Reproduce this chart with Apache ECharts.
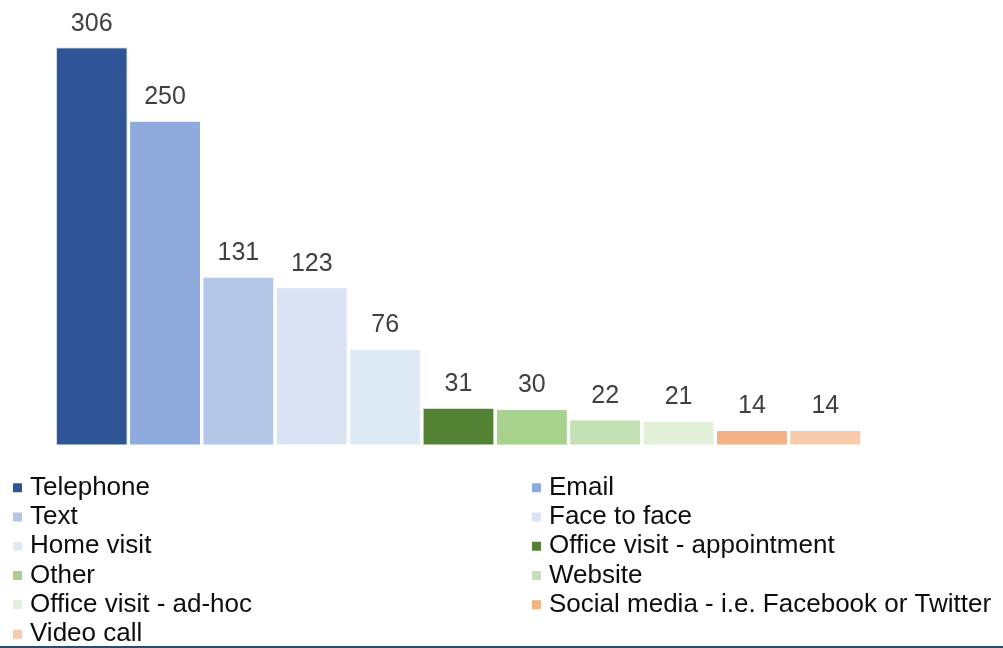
<!DOCTYPE html>
<html>
<head>
<meta charset="utf-8">
<title>Contact methods</title>
<script src="https://cdn.jsdelivr.net/npm/echarts@6/dist/echarts.min.js"></script>
<style>
  html, body { margin: 0; padding: 0; background: #fff; }
  #chart { width: 1003px; height: 648px; }
</style>
</head>
<body>
<div id="chart"></div>
<script>
// Contact methods and how many times each was used
const categories = [
  'Telephone', 'Email', 'Text', 'Face to face', 'Home visit',
  'Office visit - appointment', 'Other', 'Website', 'Office visit - ad-hoc',
  'Social media - i.e. Facebook or Twitter', 'Video call'
];
const counts = [306, 250, 131, 123, 76, 31, 30, 22, 21, 14, 14];

// Legend columns (read row by row: left, right, left, right...)
const legendLeft = ['Telephone', 'Text', 'Home visit', 'Other', 'Office visit - ad-hoc', 'Video call'];
const legendRight = ['Email', 'Face to face', 'Office visit - appointment', 'Website', 'Social media - i.e. Facebook or Twitter'];

const palette = [
  '#2F5597', '#8FAADC', '#B4C7E7', '#DAE3F3', '#DEEBF7',
  '#548235', '#A9D18E', '#C5E0B4', '#E2F0D9', '#F4B183', '#F8CBAD'
];

const FONT = 'Arial, "Liberation Sans", sans-serif';

// One series per method so every bar gets its own legend entry;
// each series only holds its own category's value.
const series = categories.map((name, i) => ({
  name: name,
  type: 'bar',
  stack: 'methods',
  barCategoryGap: '2%',
  itemStyle: { color: palette[i], borderColor: '#ffffff', borderWidth: 1 },
  label: {
    show: true,
    position: 'top',
    distance: 11,
    fontFamily: FONT,
    fontSize: 25,
    color: '#404040'
  },
  emphasis: { disabled: true },
  data: counts.map((v, j) => (j === i ? v : '-'))
}));

const legendBase = {
  orient: 'vertical',
  top: 473,
  height: 200,
  padding: 0,
  itemWidth: 11,
  itemHeight: 11,
  itemGap: 0,
  icon: 'rect',
  selectedMode: false,
  textStyle: {
    fontFamily: FONT,
    fontSize: 26,
    lineHeight: 29.3,
    color: '#0d0d0d',
    padding: [0, 0, 0, 2]
  }
};

const chart = echarts.init(document.getElementById('chart'), null, { renderer: 'canvas' });
chart.setOption({
  animation: false,
  backgroundColor: '#ffffff',
  grid: { left: 55, right: 141, top: 29, bottom: 203, containLabel: false },
  xAxis: {
    type: 'category',
    data: categories,
    axisLine: { show: false },
    axisTick: { show: false },
    axisLabel: { show: false },
    splitLine: { show: false }
  },
  yAxis: {
    type: 'value',
    min: 2.5,
    max: 320,
    show: false,
    splitLine: { show: false }
  },
  legend: [
    Object.assign({}, legendBase, { left: 11, data: legendLeft }),
    Object.assign({}, legendBase, { left: 530, data: legendRight })
  ],
  graphic: [{
    type: 'rect',
    left: 0,
    top: 646,
    shape: { width: 1003, height: 2 },
    style: { fill: '#2E4A74' },
    silent: true
  }],
  series: series
});
</script>
</body>
</html>
